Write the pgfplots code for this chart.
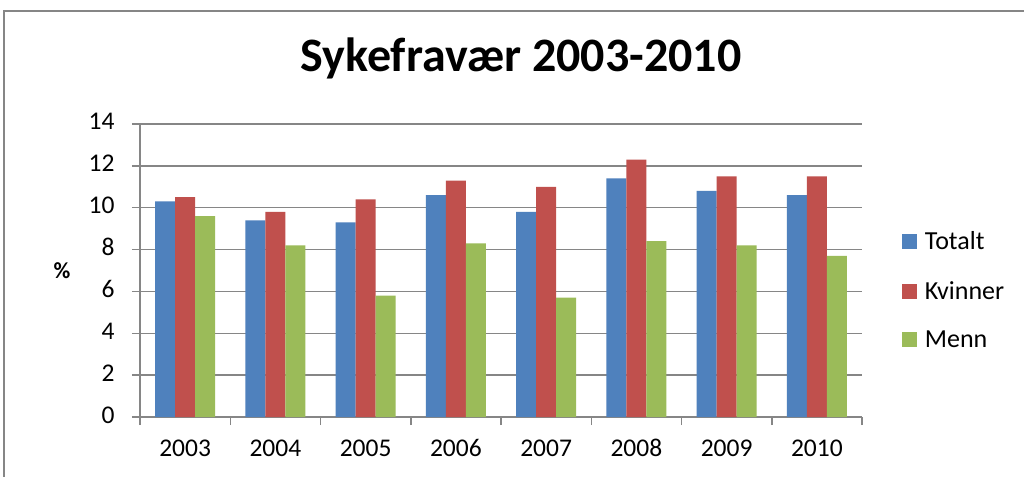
\documentclass[border=0pt]{standalone}
\usepackage{fontspec}
\setmainfont{Carlito}
\usepackage{pgfplots}
\pgfplotsset{compat=1.18}
\definecolor{cblue}{HTML}{4F81BD}
\definecolor{cred}{HTML}{C0504D}
\definecolor{cgreen}{HTML}{9BBB59}
\definecolor{cgrid}{HTML}{868686}
\begin{document}
\begin{tikzpicture}
\useasboundingbox (-140bp,-60bp) rectangle (884bp,417bp);
\fill[white] (-140bp,-60bp) rectangle (884bp,417bp);
\begin{axis}[
  scale only axis, width=722bp, height=293bp,
  ybar=0pt, bar width=20bp,
  xmin=-0.5, xmax=7.5, ymin=0, ymax=14,
  ytick={0,2,...,14},
  xtick={-0.5,0.5,...,7.5}, xticklabels={},
  extra x ticks={0,1,2,3,4,5,6,7},
  extra x tick labels={2003,2004,2005,2006,2007,2008,2009,2010},
  extra x tick style={major tick length=0pt, grid=none},
  ymajorgrids, major grid style={cgrid, line width=1.5bp},
  axis line style={cgrid, line width=1.5bp},
  axis x line*=bottom, axis y line*=left,
  tick style={cgrid, line width=1.5bp},
  major tick length=8bp, tick align=outside,
  tick label style={font=\fontsize{25.5bp}{30bp}\selectfont, text=black},
  typeset ticklabels with strut,
  /pgf/number format/assume math mode=true,
  yticklabel style={xshift=-14bp},
  xticklabel style={yshift=-15bp},
  ylabel={\textbf{\%}},
  every axis y label/.style={at={(rel axis cs:0,0.5)}, anchor=center, xshift=-78bp, font=\fontsize{23bp}{27bp}\selectfont},
  legend style={at={(rel axis cs:1.055,0.432)}, anchor=west, draw=none, fill=none,
    font=\fontsize{26bp}{30bp}\selectfont, row sep=26bp, inner sep=0pt},
  legend cell align=left,
  legend image code/.code={\fill[#1] (0bp,-7.5bp) rectangle (15bp,7.5bp); \path (21bp,0bp);},
]
\addplot[fill=cblue, draw=none] coordinates {(0,10.3) (1,9.4) (2,9.3) (3,10.6) (4,9.8) (5,11.4) (6,10.8) (7,10.6)};
\addplot[fill=cred, draw=none] coordinates {(0,10.5) (1,9.8) (2,10.4) (3,11.3) (4,11.0) (5,12.3) (6,11.5) (7,11.5)};
\addplot[fill=cgreen, draw=none] coordinates {(0,9.6) (1,8.2) (2,5.8) (3,8.3) (4,5.7) (5,8.4) (6,8.2) (7,7.7)};
\legend{Totalt,Kvinner,Menn}
\end{axis}
\draw[cgrid, line width=1.5bp] (-136bp,-80bp) -- (-136bp,406bp) -- (900bp,406bp);
\node[font=\bfseries\fontsize{48bp}{55bp}\selectfont, anchor=base] at (381bp,345bp) {Sykefravær 2003-2010};
\end{tikzpicture}
\end{document}
